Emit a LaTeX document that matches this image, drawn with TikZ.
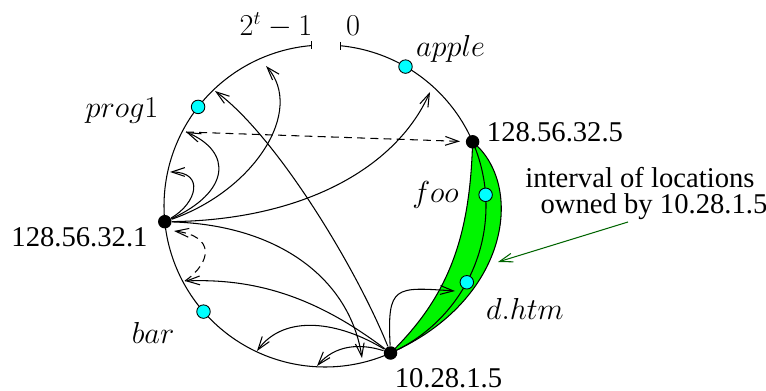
\documentclass[tikz,border=0pt]{standalone}
\usepackage{fontspec}
\setmainfont{Liberation Serif}
\usetikzlibrary{arrows.meta,calc}
\definecolor{lime}{RGB}{0,245,0}
\definecolor{aqua}{RGB}{0,255,255}
\definecolor{dgreen}{RGB}{0,100,0}
\begin{document}
\begin{tikzpicture}[x=0.02cm,y=-0.02cm,line width=0.6pt,
  arr/.style={-{Straight Barb[length=7.5pt,width=5pt]}},
  dsh/.style={dash pattern=on 4.5pt off 3pt},
  bdot/.style={circle,fill=black,inner sep=0pt,minimum size=0.27cm},
  cdot/.style={circle,fill=aqua,draw=black,line width=0.5pt,inner sep=0pt,minimum size=0.27cm},
  lbl/.style={inner sep=0pt,font=\fontsize{16.3}{19}\selectfont}]
\useasboundingbox (0,0) rectangle (766,391);
% key points
\coordinate (c1) at (164.8,221.7);
\coordinate (c5) at (472.6,141.8);
\coordinate (c10) at (390.5,353);
% green interval
\fill[lime] (c5) .. controls (470,235) and (450,295) .. (c10)
  .. controls (510,300) and (525,185) .. (c5);
\draw (c5) .. controls (470,235) and (450,295) .. (c10);
\draw (c5) .. controls (525,185) and (510,300) .. (c10);
% ring with gap
\draw plot[domain=-444.4:-94.7,samples=240,smooth] ({325+161*cos(\x)},{206+161*sin(\x)});
\coordinate (k1) at (311.8,45.5);
\coordinate (k2) at (340.7,45.8);
\draw (k1) ++(0,-4) -- ++(0,8);
\draw (k2) ++(0,-4) -- ++(0,8);
% labels
\node[lbl] (l2t) at (276,25) {$2^t-1$};
\node[lbl] (l0) at (353,26) {$0$};
\node[lbl] (lapple) at (450.5,49) {$apple$};
\node[lbl] (lprog) at (122,111) {$prog1$};
\node[lbl] (l5) at (555,132.5) {128.56.32.5};
\node[lbl] (l1) at (79.5,237) {128.56.32.1};
\node[lbl] (lfoo) at (435.5,195) {$foo$};
\node[lbl] (ldhtm) at (525,309) {$d.htm$};
\node[lbl] (lbar) at (153,333) {$bar$};
\node[lbl] (l10) at (448.5,378) {10.28.1.5};
\node[lbl] (lint1) at (640,178) {interval of locations};
\node[lbl] (lint2) at (654,207) {owned by 10.28.1.5};
% nodes
\node[bdot] (N1) at (c1) {};
\node[bdot] (N5) at (c5) {};
\node[bdot] (N10) at (c10) {};
\node[cdot] (apple) at (405.5,66.6) {};
\node[cdot] (prog) at (198.1,106.9) {};
\node[cdot] (foo) at (485.6,194.8) {};
\node[cdot] (dhtm) at (466.8,282.3) {};
\node[cdot] (bar) at (203.5,311.6) {};
% arrow end points
\coordinate (t1) at (170,172);
\coordinate (t2) at (186,132);
\coordinate (t3) at (266,66);
\coordinate (t4) at (430,92);
\coordinate (t5) at (362,358);
\coordinate (t6) at (215,91);
\coordinate (t7) at (185,281);
\coordinate (t8) at (257,351);
\coordinate (t9) at (317,366);
\coordinate (t10) at (455,291);
\coordinate (t11) at (174,231);
% arrows from 128.56.32.1
\draw[arr] (N1) .. controls (197,203) and (205,172) .. (t1);
\draw[arr] (N1) .. controls (230,192) and (233,152) .. (t2);
\draw[arr] (N1) .. controls (255,190) and (305,110) .. (t3);
\draw[arr] (N1) .. controls (300,220) and (395,170) .. (t4);
\draw[arr] (N1) .. controls (280,225) and (350,280) .. (t5);
% arrows from 10.28.1.5
\draw[arr] (N10) .. controls (355,265) and (275,135) .. (t6);
\draw[arr] (N10) .. controls (320,300) and (260,278) .. (t7);
\draw[arr] (N10) .. controls (340,322) and (285,313) .. (t8);
\draw[arr] (N10) .. controls (360,343) and (335,345) .. (t9);
\draw[arr] (N10) .. controls (387,285) and (395,287) .. (t10);
% dashed
\draw[arr,dsh,shorten >=3pt] (t2) -- (N5);
\draw[arr,dsh] (t7) .. controls (212,262) and (215,236) .. (t11);
% pointer
\coordinate (g0) at (628,222);
\coordinate (g1) at (498,262);
\draw[arr,dgreen] (g0) -- (g1);
\end{tikzpicture}
\end{document}
